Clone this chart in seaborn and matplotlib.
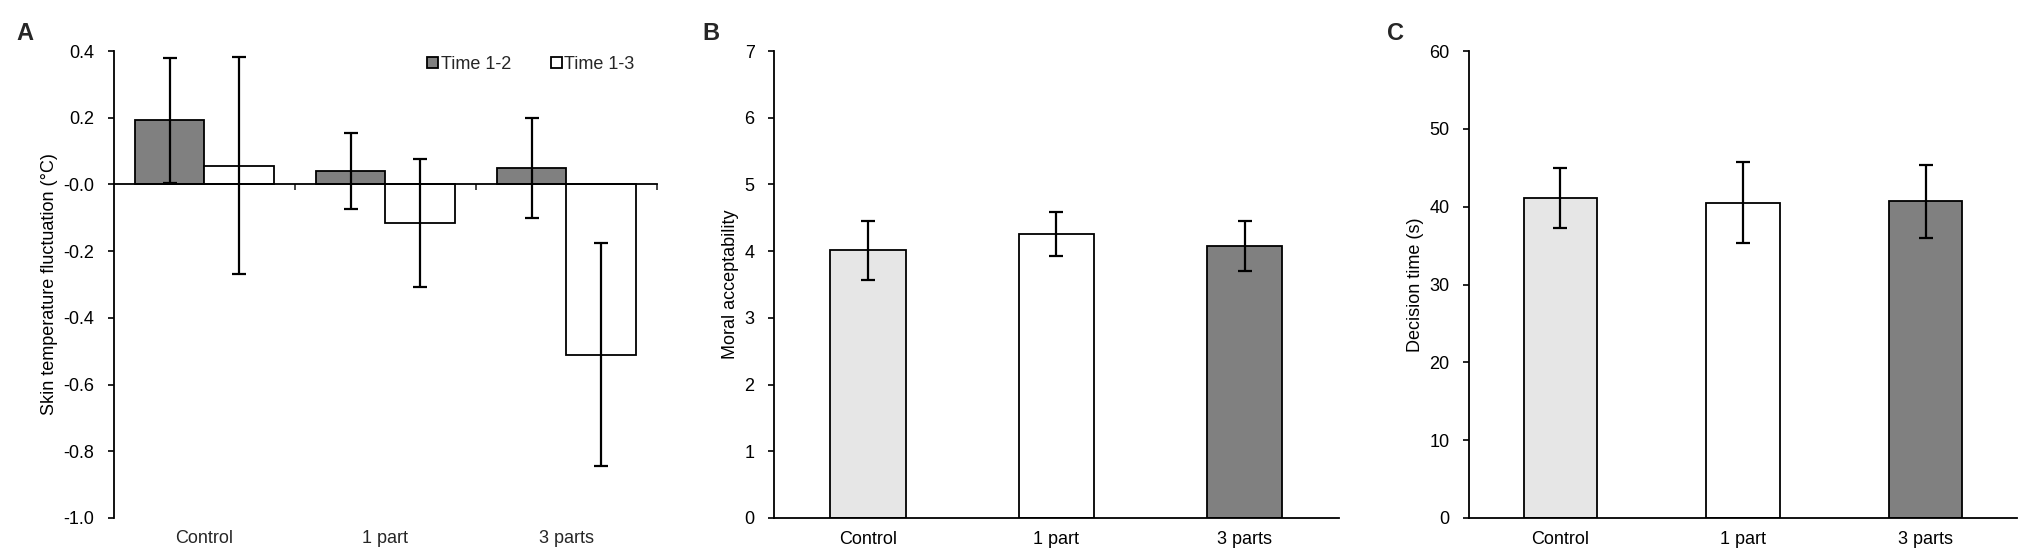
import numpy as np
import pandas as pd
import seaborn as sns
import matplotlib.pyplot as plt
from matplotlib.ticker import FormatStrFormatter

# data
categories = ["Control", "1 part", "3 parts"]
periods = ["Time 1-2", "Time 1-3"]

skin_t12 = [0.192, 0.040, 0.050]
skin_t12_err = [0.187, 0.113, 0.150]
skin_t13 = [0.056, -0.115, -0.510]
skin_t13_err = [0.325, 0.192, 0.333]

moral = [4.01, 4.25, 4.08]
moral_err = [0.44, 0.33, 0.375]

decision = [41.1, 40.5, 40.7]
decision_err = [3.9, 5.2, 4.7]

sns.set_style("ticks")
plt.rcParams["font.family"] = ["Liberation Sans", "DejaVu Sans"]
plt.rcParams["axes.unicode_minus"] = False

FS = 13
EDGE = 1.3
cond_colors = ["#e6e6e6", "white", "#808080"]

fig = plt.figure(figsize=(20.33, 5.54), dpi=100)
W, H = 2033, 554
bottom = 1 - 518 / H
height = (518 - 51) / H
axA = fig.add_axes([114 / W, bottom, (657 - 114) / W, height])
axB = fig.add_axes([774 / W, bottom, (1339 - 774) / W, height])
axC = fig.add_axes([1469 / W, bottom, (2017 - 1469) / W, height])


def style_axis(ax, ylabel):
    for s in ["top", "right"]:
        ax.spines[s].set_visible(False)
    for s in ["left", "bottom"]:
        ax.spines[s].set_linewidth(EDGE)
        ax.spines[s].set_color("black")
    ax.tick_params(axis="y", length=4, width=1.2, direction="out", pad=10,
                   labelsize=FS, colors="black")
    ax.set_ylabel(ylabel, fontsize=FS, labelpad=4, color="black")
    ax.set_xlabel("")


# ---- panel A: grouped bars, zero line inside the axis ----
skin = pd.DataFrame({
    "cond": categories * 2,
    "period": [periods[0]] * 3 + [periods[1]] * 3,
    "value": skin_t12 + skin_t13,
})
sns.barplot(data=skin, x="cond", y="value", hue="period", order=categories,
            hue_order=periods, palette={periods[0]: "#808080", periods[1]: "white"},
            edgecolor="black", linewidth=EDGE, width=0.77, errorbar=None,
            saturation=1, ax=axA)
for cont, vals, errs in zip(axA.containers, [skin_t12, skin_t13], [skin_t12_err, skin_t13_err]):
    xs = [p.get_x() + p.get_width() / 2 for p in cont]
    axA.errorbar(xs, vals, yerr=errs, fmt="none", ecolor="black",
                 elinewidth=1.6, capsize=5, capthick=1.6, zorder=5)
axA.get_legend().remove()
axA.legend(handles=[axA.containers[0][0], axA.containers[1][0]], labels=periods,
           loc="center", bbox_to_anchor=(0.768, 0.972), ncol=2, frameon=False,
           fontsize=FS, handlelength=0.6, handleheight=0.55, handletextpad=0.15,
           columnspacing=2.2, borderaxespad=0)
axA.set_ylim(-1.0, 0.4)
axA.set_yticks(np.arange(-1.0, 0.41, 0.2))
axA.yaxis.set_major_formatter(FormatStrFormatter("%.1f"))
axA.set_xlim(-0.5, 2.5)
axA.spines["bottom"].set_position(("data", 0))
axA.set_xticks([0.5, 1.5, 2.5])
axA.set_xticklabels([])
axA.tick_params(axis="x", length=4, width=1.2, direction="out")
for i, c in enumerate(categories):
    axA.text(i, -0.026, c, transform=axA.get_xaxis_transform(), ha="center",
             va="top", fontsize=FS)
style_axis(axA, "Skin temperature fluctuation (\u00b0C)")


# ---- panels B and C: single bars ----
def single_bars(ax, vals, errs, ylim, yticks, ylabel):
    sns.barplot(x=categories, y=vals, hue=categories, palette=cond_colors,
                legend=False, edgecolor="black", linewidth=EDGE, width=0.4,
                saturation=1, ax=ax)
    ax.errorbar(np.arange(len(categories)), vals, yerr=errs, fmt="none",
                ecolor="black", elinewidth=1.6, capsize=5, capthick=1.6, zorder=5)
    ax.set_xlim(-0.5, 2.5)
    ax.set_ylim(*ylim)
    ax.set_yticks(yticks)
    ax.tick_params(axis="x", length=0, pad=9, labelsize=FS, colors="black")
    style_axis(ax, ylabel)


single_bars(axB, moral, moral_err, (0, 7), range(0, 8), "Moral acceptability")
single_bars(axC, decision, decision_err, (0, 60), range(0, 61, 10), "Decision time (s)")

for letter, x in zip("ABC", [16, 702, 1387]):
    fig.text(x / W, 1 - 33 / H, letter, fontsize=17, fontweight="bold",
             ha="left", va="center")

fig.savefig("out.png", dpi=100, facecolor="white")
